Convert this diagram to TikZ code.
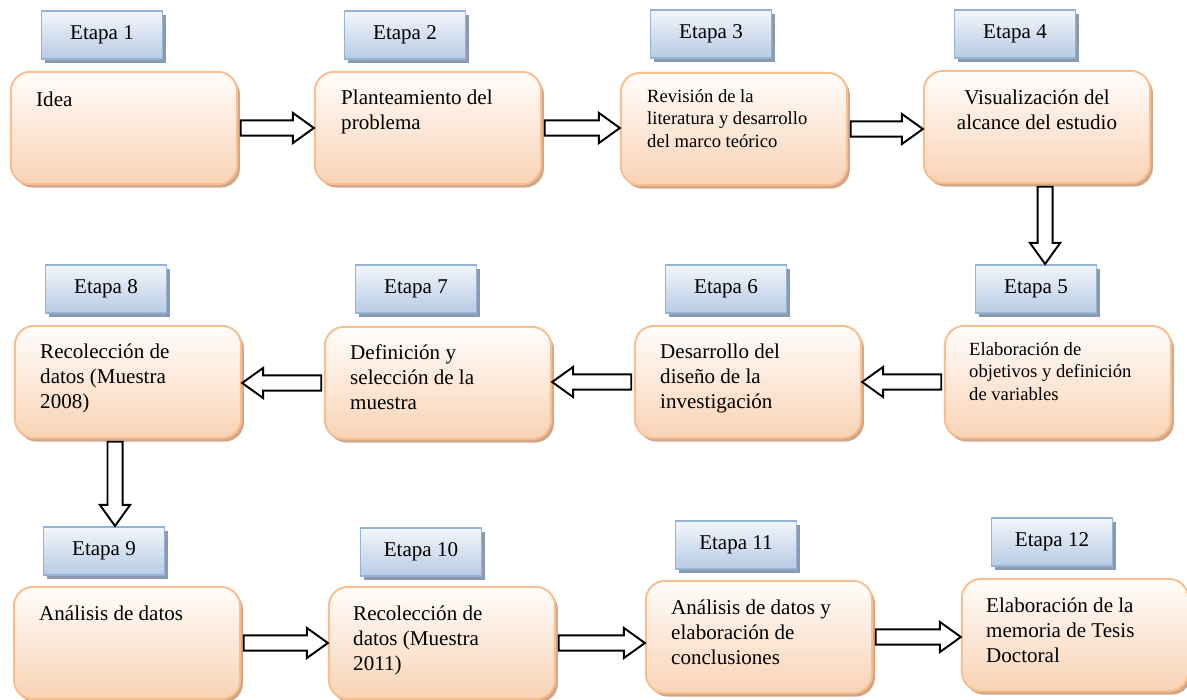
\documentclass[tikz,border=0pt]{standalone}
\usepackage{fontspec}
\setmainfont{Liberation Serif}
\usetikzlibrary{calc,shadows}
\definecolor{boxtop}{HTML}{FFFDFB}
\definecolor{boxbot}{HTML}{F9D3B5}
\definecolor{boxline}{HTML}{F9BE8E}
\definecolor{boxshade}{HTML}{D2A688}
\definecolor{tagtop}{HTML}{F3F6FB}
\definecolor{tagbot}{HTML}{B7CBE4}
\definecolor{tagline}{HTML}{95B3D7}
\definecolor{tagshade}{HTML}{8C9AAE}
% lines of a box text, baseline on the first line
\newcommand{\lineas}[1]{\parbox[t]{120pt}{#1}}
\begin{document}
\begin{tikzpicture}[x=0.57pt,y=-0.57pt,
  caja/.style={draw=boxline, line width=1.1pt, rounded corners=11pt,
    top color=boxtop, bottom color=boxbot, minimum width=129pt,
    minimum height=64pt, inner sep=0pt,
    drop shadow={shadow xshift=1.6pt, shadow yshift=-2pt, fill=boxshade, opacity=1}},
  etapa/.style={draw=tagline, line width=1pt, top color=tagtop, bottom color=tagbot,
    minimum width=69pt, minimum height=27.5pt, inner sep=0pt,
    font=\fontsize{12}{14}\selectfont,
    drop shadow={shadow xshift=1.8pt, shadow yshift=-2.2pt, fill=tagshade, opacity=1}},
  texto/.style={anchor=base west, inner sep=0pt, font=\fontsize{12}{14.2}\selectfont},
  chico/.style={texto, font=\fontsize{10.6}{12.6}\selectfont},
  flecha/.style={draw=black, line width=1.1pt, fill=white, to path={
    let \p1=(\tikztostart), \p2=(\tikztotarget),
        \n2={atan2(\y2-\y1,\x2-\x1)} in
    ($(\p1)+(\n2:1.5pt)+({\n2+90}:4.3pt)$)
    -- ($(\p2)+({\n2+180}:12pt)+({\n2+90}:4.3pt)$)
    -- ($(\p2)+({\n2+180}:12pt)+({\n2+90}:8.6pt)$)
    -- (\p2)
    -- ($(\p2)+({\n2+180}:12pt)+({\n2-90}:8.6pt)$)
    -- ($(\p2)+({\n2+180}:12pt)+({\n2-90}:4.3pt)$)
    -- ($(\p1)+(\n2:1.5pt)+({\n2-90}:4.3pt)$)
    -- cycle}}]
\useasboundingbox (0,0) rectangle (1187,700);

% the twelve boxes
\foreach \n/\x/\y in {1/124/128, 2/428/128, 3/734/129, 4/1037/127,
                      5/1058/382, 6/748/382, 7/438/383, 8/128/382,
                      9/127/643, 10/442/643, 11/759/637, 12/1075/635}{
  \node[caja] (b\n) at (\x,\y) {};
}
% the stage labels above them
\foreach \n/\x/\y in {1/102/35, 2/405/35, 3/711/34, 4/1015/34,
                      5/1036/289, 6/726/289, 7/416/289, 8/106/289,
                      9/104/551, 10/421/552, 11/736/545, 12/1052/542}{
  \node[etapa] (e\n) at (\x,\y) {Etapa \n};
}

% texts
\node[texto] (t1) at ($(b1.north west)+(26,36)$) {Idea};
\node[texto] (t2) at ($(b2.north west)+(27,34)$) {\lineas{Planteamiento del\\problema}};
\node[chico] (t3) at ($(b3.north west)+(27,31)$) {\lineas{Revisión de la\\literatura y desarrollo\\del marco teórico}};
\node[texto, anchor=base] (t4) at ($(b4.north)+(0,35)$) {\lineas{\centering Visualización del\\alcance del estudio}};
\node[chico] (t5) at ($(b5.north west)+(25,31)$) {\lineas{Elaboración de\\objetivos y definición\\de variables}};
\node[texto] (t6) at ($(b6.north west)+(26,34)$) {\lineas{Desarrollo del\\diseño de la\\investigación}};
\node[texto] (t7) at ($(b7.north west)+(26,34)$) {\lineas{Definición y\\selección de la\\muestra}};
\node[texto] (t8) at ($(b8.north west)+(26,34)$) {\lineas{Recolección de\\datos (Muestra\\2008)}};
\node[texto] (t9) at ($(b9.north west)+(26,35)$) {Análisis de datos};
\node[texto] (t10) at ($(b10.north west)+(25,35)$) {\lineas{Recolección de\\datos (Muestra\\2011)}};
\node[texto] (t11) at ($(b11.north west)+(26,35)$) {\lineas{Análisis de datos y\\elaboración de\\conclusiones}};
\node[texto] (t12) at ($(b12.north west)+(25,35)$) {\lineas{Elaboración de la\\memoria de Tesis\\Doctoral}};

% block arrows
\draw[flecha] (b1.east) to (b1.east -| b2.west);
\draw[flecha] (b2.east) to (b2.east -| b3.west);
\draw[flecha] (b3.east) to (b3.east -| b4.west);
\draw[flecha] ([xshift=4.6pt]b4.south) to ([xshift=4.6pt]b4.south |- e5.north);
\draw[flecha] (b5.west) to (b5.west -| b6.east);
\draw[flecha] (b6.west) to (b6.west -| b7.east);
\draw[flecha] (b7.west) to (b7.west -| b8.east);
\draw[flecha] ([xshift=-7.4pt]b8.south) to ([xshift=-7.4pt]b8.south |- e9.north);
\draw[flecha] (b9.east) to (b9.east -| b10.west);
\draw[flecha] (b10.east) to (b10.east -| b11.west);
\draw[flecha] (b11.east) to (b11.east -| b12.west);
\end{tikzpicture}
\end{document}
